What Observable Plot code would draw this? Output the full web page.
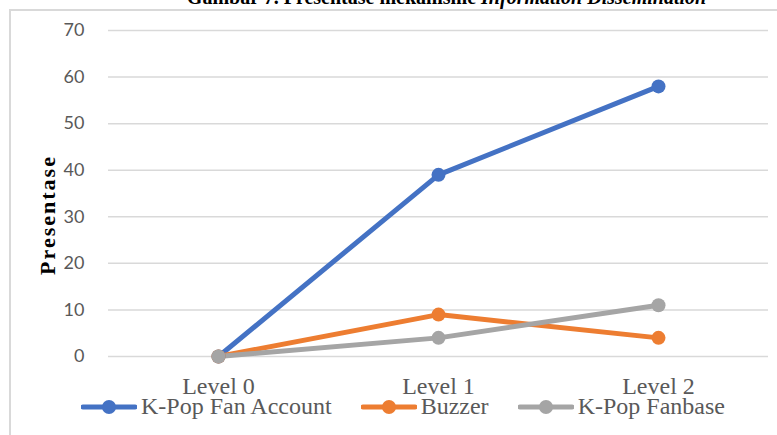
<!DOCTYPE html>
<html>
<head>
<meta charset="utf-8">
<script src="https://cdn.jsdelivr.net/npm/d3@7"></script>
<script src="https://cdn.jsdelivr.net/npm/@observablehq/plot@0.6"></script>
<style>
  html, body { margin: 0; padding: 0; background: #fff; }
  #wrap { position: relative; width: 777px; height: 435px; overflow: hidden; background: #fff; }
  #title { position: absolute; top: -14px; left: 0; width: 777px; text-align: center; padding-left: 116px; box-sizing: border-box;
           font-family: "Liberation Serif", "Times New Roman", serif; font-weight: bold; font-size: 20px; color: #000; white-space: nowrap; }
  #box { position: absolute; left: 9px; top: 9px; width: 800px; height: 440px; border-left: 2px solid #d9d9d9; border-top: 2px solid #d9d9d9; }
  #chart { position: absolute; left: 0; top: 0; }
  #legend { position: absolute; left: 81px; top: 393px; display: flex; gap: 29px; align-items: center;
            font-family: "Liberation Serif", "Times New Roman", serif; font-size: 24px; color: #595959; }
  .item { display: flex; align-items: center; gap: 4px; }
</style>
</head>
<body>
<div id="wrap">
  <div id="title">Gambar 7. Presentase mekanisme <i>Information Dissemination</i></div>
  <div id="box"></div>
  <div id="chart"></div>
  <div id="legend"></div>
</div>
<script>
const levels = ["Level 0", "Level 1", "Level 2"];
const seriesNames = ["K-Pop Fan Account", "Buzzer", "K-Pop Fanbase"];
const fanAccount = [0, 39, 58];
const buzzer = [0, 9, 4];
const fanbase = [0, 4, 11];
const yTicks = [0, 10, 20, 30, 40, 50, 60, 70];
const colors = ["#4472C4", "#ED7D31", "#A5A5A5"];

const allValues = [fanAccount, buzzer, fanbase];
const data = [];
seriesNames.forEach((s, i) => levels.forEach((l, j) => data.push({series: s, level: l, value: allValues[i][j]})));

const plot = Plot.plot({
  width: 777,
  height: 395,
  marginTop: 30,
  marginBottom: 39,
  marginLeft: 108,
  marginRight: 9,
  style: {background: "transparent", overflow: "visible"},
  x: {type: "point", domain: levels, padding: 0.5, label: null},
  y: {domain: [0, 70], label: null},
  color: {domain: seriesNames, range: colors},
  marks: [
    Plot.gridY(yTicks, {stroke: "#d9d9d9", strokeOpacity: 1, strokeWidth: 1.5}),
    Plot.axisY(yTicks, {tickSize: 0, tickPadding: 24, fontSize: 18, fill: "#595959",
      fontFamily: "Lato, 'Open Sans', sans-serif"}),
    Plot.axisX({tickSize: 0, tickPadding: 20, fontSize: 24, fill: "#595959",
      fontFamily: "'Liberation Serif', 'Times New Roman', serif"}),
    Plot.line(data, {x: "level", y: "value", z: "series", stroke: "series", strokeWidth: 5, strokeLinejoin: "round"}),
    Plot.dot(data, {x: "level", y: "value", fill: "series", r: 7})
  ]
});
document.getElementById("chart").appendChild(plot);

// partially hidden y axis label
const svg = d3.select(plot);
const defs = svg.append("defs");
defs.append("clipPath").attr("id", "ylabclip").append("rect")
  .attr("x", 0).attr("y", 0).attr("width", 56).attr("height", 435);
svg.append("g")
  .attr("clip-path", "url(#ylabclip)")
  .append("text")
  .attr("transform", "translate(55,215) rotate(-90)")
  .attr("text-anchor", "middle")
  .attr("font-family", "'Liberation Serif', 'Times New Roman', serif")
  .attr("font-weight", "bold")
  .attr("font-size", 22)
  .attr("letter-spacing", 2)
  .attr("fill", "#000")
  .text("Presentase");

// legend
const legend = d3.select("#legend");
seriesNames.forEach((s, i) => {
  const item = legend.append("div").attr("class", "item");
  const sw = item.append("svg").attr("width", 56).attr("height", 16);
  sw.append("line").attr("x1", 2).attr("x2", 54).attr("y1", 8).attr("y2", 8)
    .attr("stroke", colors[i]).attr("stroke-width", 5).attr("stroke-linecap", "round");
  sw.append("circle").attr("cx", 28).attr("cy", 8).attr("r", 7).attr("fill", colors[i]);
  item.append("span").text(s);
});
</script>
</body>
</html>
